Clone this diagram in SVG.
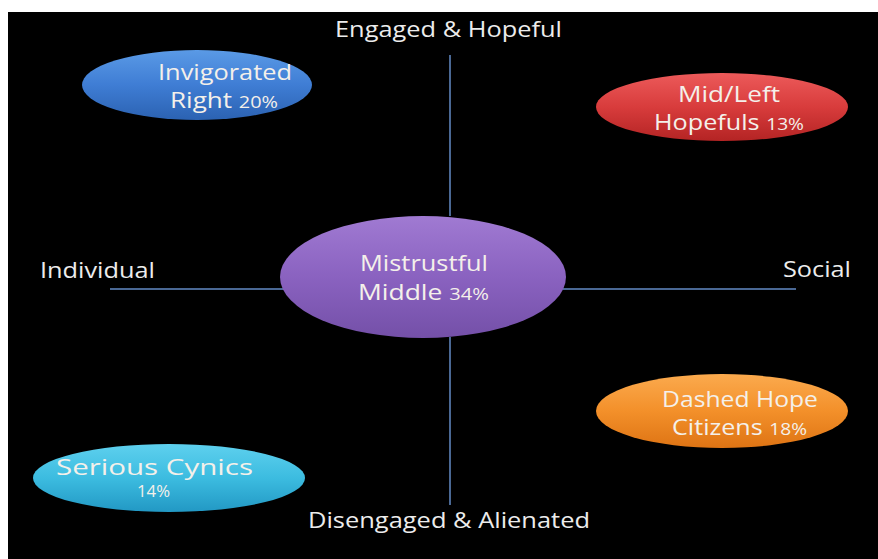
<svg xmlns="http://www.w3.org/2000/svg" width="878" height="559" viewBox="0 0 878 559">
<style>
.lbl{font-family:"Open Sans","Liberation Sans",sans-serif;font-size:21px;fill:#ececec}
.nt{font-family:"Open Sans","Liberation Sans",sans-serif;font-size:21px;fill:#f4f0ea}
.pct{font-size:16px}
.axis{stroke:#4a6894;stroke-width:2;fill:none}
.node ellipse{stroke:none}
</style>
<defs>
<linearGradient id="gBlue" x1="0" y1="0" x2="0" y2="1"><stop offset="0" stop-color="#5a9ae6"/><stop offset="0.5" stop-color="#3f7dd4"/><stop offset="1" stop-color="#2b62b2"/></linearGradient>
<linearGradient id="gRed" x1="0" y1="0" x2="0" y2="1"><stop offset="0" stop-color="#ec5a5a"/><stop offset="0.5" stop-color="#d83c3c"/><stop offset="1" stop-color="#b42424"/></linearGradient>
<linearGradient id="gPurple" x1="0" y1="0" x2="0" y2="1"><stop offset="0" stop-color="#a07ad2"/><stop offset="0.5" stop-color="#8a62c0"/><stop offset="1" stop-color="#7450a8"/></linearGradient>
<linearGradient id="gOrange" x1="0" y1="0" x2="0" y2="1"><stop offset="0" stop-color="#fbaa4e"/><stop offset="0.5" stop-color="#f3902a"/><stop offset="1" stop-color="#de7414"/></linearGradient>
<linearGradient id="gCyan" x1="0" y1="0" x2="0" y2="1"><stop offset="0" stop-color="#5ed0ee"/><stop offset="0.5" stop-color="#3cbce0"/><stop offset="1" stop-color="#2298c4"/></linearGradient>
</defs>
<rect x="0" y="0" width="878" height="559" fill="#ffffff"/>
<rect x="8" y="12" width="870" height="547" fill="#000000"/>
<g id="connectors">
<line class="axis" x1="450" y1="55" x2="450" y2="216"/>
<line class="axis" x1="450" y1="337" x2="450" y2="505"/>
<line class="axis" x1="110" y1="289" x2="284" y2="289"/>
<line class="axis" x1="563" y1="289" x2="796" y2="289"/>
</g>
<g id="axis-labels">
<text class="lbl" x="335" y="37" textLength="227" lengthAdjust="spacingAndGlyphs">Engaged &amp; Hopeful</text>
<text class="lbl" x="308" y="528" textLength="282" lengthAdjust="spacingAndGlyphs">Disengaged &amp; Alienated</text>
<text class="lbl" x="40" y="278" textLength="115" lengthAdjust="spacingAndGlyphs">Individual</text>
<text class="lbl" x="783" y="277" textLength="68" lengthAdjust="spacingAndGlyphs">Social</text>
</g>
<g id="invigorated-right" class="node">
<ellipse cx="197" cy="85" rx="115" ry="35" fill="url(#gBlue)"/>
<text class="nt" x="158" y="80" textLength="134" lengthAdjust="spacingAndGlyphs">Invigorated</text>
<text class="nt" x="170" y="108" textLength="108" lengthAdjust="spacingAndGlyphs">Right <tspan class="pct">20%</tspan></text>
</g>
<g id="mid-left-hopefuls" class="node">
<ellipse cx="722" cy="107" rx="126" ry="34" fill="url(#gRed)"/>
<text class="nt" x="678" y="102" textLength="102" lengthAdjust="spacingAndGlyphs">Mid/Left</text>
<text class="nt" x="654" y="130" textLength="150" lengthAdjust="spacingAndGlyphs">Hopefuls <tspan class="pct">13%</tspan></text>
</g>
<g id="mistrustful-middle" class="node">
<ellipse cx="423" cy="277" rx="143" ry="61" fill="url(#gPurple)"/>
<text class="nt" x="360" y="271" textLength="128" lengthAdjust="spacingAndGlyphs">Mistrustful</text>
<text class="nt" x="358" y="300" textLength="131" lengthAdjust="spacingAndGlyphs">Middle <tspan class="pct">34%</tspan></text>
</g>
<g id="dashed-hope-citizens" class="node">
<ellipse cx="722" cy="411" rx="126" ry="37" fill="url(#gOrange)"/>
<text class="nt" x="662" y="407" textLength="156" lengthAdjust="spacingAndGlyphs">Dashed Hope</text>
<text class="nt" x="672" y="435" textLength="135" lengthAdjust="spacingAndGlyphs">Citizens <tspan class="pct">18%</tspan></text>
</g>
<g id="serious-cynics" class="node">
<ellipse cx="169" cy="478" rx="136" ry="34" fill="url(#gCyan)"/>
<text class="nt" x="56" y="475" textLength="197" lengthAdjust="spacingAndGlyphs">Serious Cynics</text>
<text class="nt pct" x="137" y="497" textLength="33" lengthAdjust="spacingAndGlyphs">14%</text>
</g>
</svg>
